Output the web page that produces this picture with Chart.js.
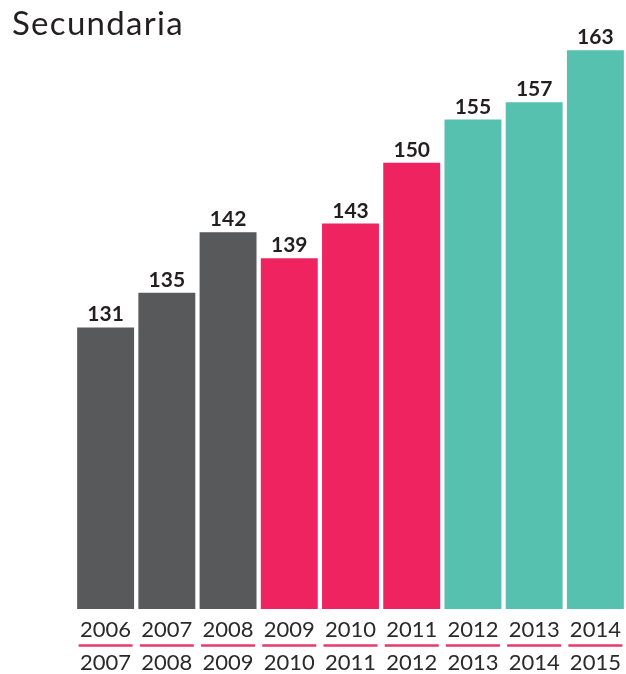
<!DOCTYPE html>
<html>
<head>
<meta charset="utf-8">
<script src="https://cdn.jsdelivr.net/npm/chart.js@4/dist/chart.umd.min.js"></script>
<style>
  html, body { margin: 0; padding: 0; background: #ffffff; }
  #wrap { position: relative; width: 626px; height: 674px; }
  #title { position: absolute; left: 12px; top: 2px; font-family: Lato, sans-serif; font-size: 33px; font-weight: 400; color: #231f20; letter-spacing: 1.3px; }
  canvas { display: block; }
</style>
</head>
<body>
<div id="wrap">
  <canvas id="c" width="626" height="674"></canvas>
  <div id="title">Secundaria</div>
</div>
<script>
const startYears = ["2006", "2007", "2008", "2009", "2010", "2011", "2012", "2013", "2014"];
const endYears   = ["2007", "2008", "2009", "2010", "2011", "2012", "2013", "2014", "2015"];
const values     = [131, 135, 142, 139, 143, 150, 155, 157, 163];
const groupColors = ["#58595b", "#58595b", "#58595b", "#ee2360", "#ee2360", "#ee2360", "#55c1ae", "#55c1ae", "#55c1ae"];

const labels = startYears.map((s, i) => [s, endYears[i]]);

const valueLabels = {
  id: 'valueLabels',
  afterDatasetsDraw(chart) {
    const ctx = chart.ctx;
    const meta = chart.getDatasetMeta(0);
    ctx.save();
    ctx.font = 'bold 21px Lato, sans-serif';
    ctx.fillStyle = '#231f20';
    ctx.textAlign = 'center';
    ctx.textBaseline = 'alphabetic';
    meta.data.forEach((bar, i) => {
      ctx.fillText(String(values[i]), bar.x, bar.y - 6);
    });
    ctx.restore();
  }
};

const yearDividers = {
  id: 'yearDividers',
  afterDraw(chart) {
    const ctx = chart.ctx;
    const xs = chart.scales.x;
    ctx.save();
    ctx.strokeStyle = '#e73a6b';
    ctx.lineWidth = 2.5;
    labels.forEach((l, i) => {
      const x = xs.getPixelForValue(i);
      ctx.beginPath();
      ctx.moveTo(x - 27, 645.5);
      ctx.lineTo(x + 27, 645.5);
      ctx.stroke();
    });
    ctx.restore();
  }
};

new Chart(document.getElementById('c'), {
  type: 'bar',
  data: {
    labels: labels,
    datasets: [{
      data: values,
      backgroundColor: groupColors,
      borderWidth: 0,
      barPercentage: 0.93,
      categoryPercentage: 1.0
    }]
  },
  options: {
    responsive: false,
    animation: false,
    devicePixelRatio: 1,
    layout: { padding: { left: 75, right: 0, top: 0, bottom: 0 } },
    plugins: { legend: { display: false }, tooltip: { enabled: false }, title: { display: false } },
    scales: {
      x: {
        grid: { display: false },
        border: { display: false },
        afterFit(scale) { scale.height = 65; },
        ticks: {
          color: '#2a2a2a',
          font: { family: 'Lato, sans-serif', size: 22, lineHeight: 1.5 },
          padding: -4,
          maxRotation: 0,
          autoSkip: false
        }
      },
      y: {
        display: false,
        min: 98.5,
        max: 168.8
      }
    }
  },
  plugins: [valueLabels, yearDividers]
});
</script>
</body>
</html>
